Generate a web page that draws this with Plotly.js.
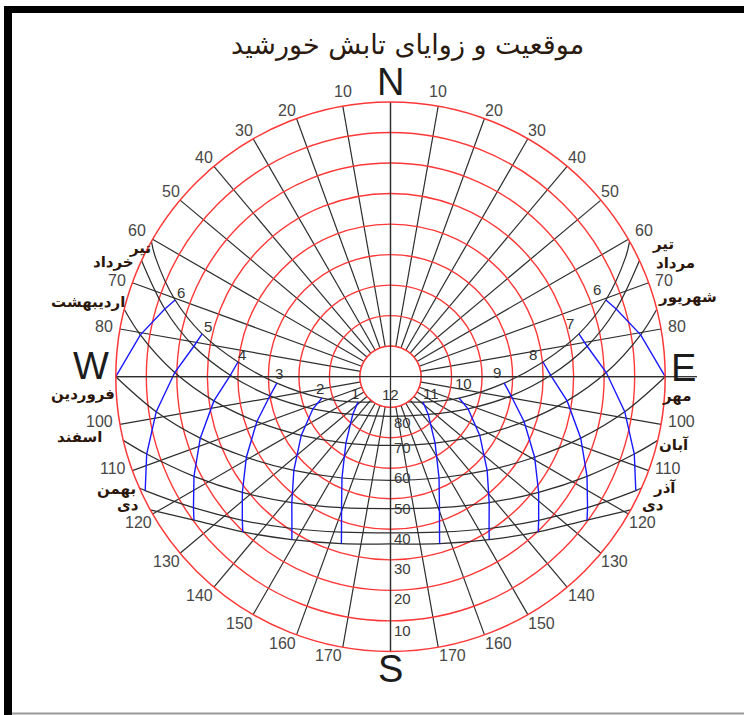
<!DOCTYPE html>
<html><head><meta charset="utf-8">
<script src="https://cdn.plot.ly/plotly-3.0.1.min.js"></script>
<style>html,body{margin:0;padding:0;background:#fff}#chart{width:744px;height:715px}</style>
</head><body><div id="chart"></div>
<script>
// ---- data (altitude / azimuth-from-north, afternoon side; morning is the mirror) ----
const HOURS_FROM_NOON = [0, 1, 2, 3, 4, 5, 6, 7];
const MONTHS_WEST = ['تیر', 'خرداد', 'اردیبهشت', 'فروردین', 'اسفند', 'بهمن', 'دی'];
const MONTHS_EAST = ['تیر', 'مرداد', 'شهریور', 'مهر', 'آبان', 'آذر', 'دی'];
const altTir   = [82.0, 76.5, 66.5, 52.7, 39.8, 26.7, 15.1, 3.5];
const azTir    = [180, 128.0, 107.3, 93.2, 84.5, 77.2, 70.4, 63.0];
const altKhord = [77.0, 72.5, 62.5, 50.0, 37.5, 24.8, 12.8, null];
const azKhord  = [180, 135.0, 112.5, 99.0, 89.5, 81.2, 73.3, null];
const altOrdi  = [67.5, 63.8, 55.0, 43.8, 31.6, 19.3, 6.9, null];
const azOrdi   = [180, 146.1, 123.3, 108.6, 97.8, 88.9, 80.5, null];
const altFarv  = [56.0, 53.2, 45.9, 35.9, 24.5, 12.4, 0.0, null];
const azFarv   = [180, 154.4, 134.1, 119.2, 107.9, 98.5, 90.0, null];
const altEsf   = [46.8, 44.2, 37.6, 28.4, 17.8, 6.2, null, null];
const azEsf    = [180, 159.5, 141.9, 128.0, 116.9, 107.6, null, null];
const altBahm  = [38.8, 36.6, 30.7, 22.4, 12.5, 1.4, null, null];
const azBahm   = [180, 162.5, 147.0, 134.1, 123.6, 114.9, null, null];
const altDey   = [35.2, 33.0, 27.6, 19.8, 10.3, null, null, null];
const azDey    = [180, 163.6, 148.8, 136.4, 126.1, null, null, null];
const SUNSET_AZ = [60.5, 65.0, 75.8, 90.0, 103.4, 113.9, 119.0];
const HOUR_LABELS_PM = ['12', '1', '2', '3', '4', '5', '6'];
const HOUR_LABELS_AM = ['11', '10', '9', '8', '7', '6'];
const ALT_LABELS = [80, 70, 60, 50, 40, 30, 20, 10];
const TITLE = 'موقعیت و زوایای تابش خورشید';

const ALTS = [altTir, altKhord, altOrdi, altFarv, altEsf, altBahm, altDey];
const AZS  = [azTir, azKhord, azOrdi, azFarv, azEsf, azBahm, azDey];

// ---- layout geometry (pixels of the 744x715 page) ----
const W = 744, H = 715;
const CX = 390.5, CY = 376.7, R = 274.7;
const px = (x) => x / W, py = (y) => 1 - y / H;
const RED = 'rgb(255,55,55)', BLK = '#2e2e2e', BLUE = 'rgb(25,25,255)';
const zen = (a) => 90 - a;

const traces = [];
// day (month) curves
ALTS.forEach((alt, m) => {
  const az = AZS[m];
  const r = [90], t = [SUNSET_AZ[m]];
  for (let h = HOURS_FROM_NOON.length - 1; h >= 1; h--) if (alt[h] !== null) { r.push(zen(alt[h])); t.push(az[h]); }
  r.push(zen(alt[0])); t.push(180);
  for (let h = 1; h < HOURS_FROM_NOON.length; h++) if (alt[h] !== null) { r.push(zen(alt[h])); t.push(360 - az[h]); }
  r.push(90); t.push(360 - SUNSET_AZ[m]);
  traces.push({type: 'scatterpolar', mode: 'lines', r, theta: t,
    line: {color: BLK, width: 1.25, shape: 'spline', smoothing: 1}, hoverinfo: 'skip'});
});
// hour lines (blue), afternoon and morning
for (let h = 1; h <= 6; h++) {
  [1, -1].forEach(side => {
    const r = [], t = [];
    ALTS.forEach((alt, m) => { if (alt[h] !== null) { r.push(zen(alt[h])); t.push(side > 0 ? 360 - AZS[m][h] : AZS[m][h]); } });
    traces.push({type: 'scatterpolar', mode: 'lines', r, theta: t,
      line: {color: BLUE, width: 1.4}, hoverinfo: 'skip'});
  });
}
// white central disk (altitude 80 circle) and the N-S / E-W axes through it
const discT = [];
for (let a = 0; a <= 360; a += 3) discT.push(a);
traces.push({type: 'scatterpolar', mode: 'lines', r: discT.map(() => 10), theta: discT,
  fill: 'toself', fillcolor: '#ffffff', line: {color: RED, width: 1.4}, hoverinfo: 'skip'});
traces.push({type: 'scatterpolar', mode: 'lines', r: [90, 0, 90], theta: [0, 0, 180],
  line: {color: BLK, width: 1.3}, hoverinfo: 'skip'});
traces.push({type: 'scatterpolar', mode: 'lines', r: [90, 0, 90], theta: [270, 0, 90],
  line: {color: BLK, width: 1.3}, hoverinfo: 'skip'});

// angular grid every 10 degrees
const tickvals = [];
for (let a = 0; a < 360; a += 10) tickvals.push(a);

const ann = [];
const A = (x, y, text, font, xa, ya) => ann.push({xref: 'paper', yref: 'paper', x: px(x), y: py(y), text,
  showarrow: false, xanchor: xa || 'center', yanchor: ya || 'middle', font});

// azimuth labels just outside the rim (same value on both sides of north)
const TF = {family: 'Liberation Sans, Arial', size: 16, color: '#474747'};
tickvals.forEach(a => {
  if (a % 90 === 0) return;
  const s = Math.sin(a * Math.PI / 180), c = Math.cos(a * Math.PI / 180);
  const xr = CX + R * s, yr = CY - R * c;
  const txt = String(a <= 180 ? a : 360 - a);
  if (Math.abs(s) < 0.2 && c > 0) { A(xr, yr - 15, txt, TF); return; }
  const steep = c > 0 ? c >= 0.55 : -c >= 0.45;
  const off = steep ? 1.5 : -4.5;
  const dy = Math.abs(c) >= 0.45 ? (c > 0 ? -8.5 : 8.5) : -2.5;
  if (s < 0) A(xr + off, yr + dy, txt, TF, 'right'); else A(xr - off, yr + dy, txt, TF, 'left');
});

A(408, 45, TITLE, {family: 'DejaVu Sans', size: 27, color: '#2a1a0f'});
const LF = {family: 'Liberation Sans, Arial', size: 38, color: '#1c1c1c'};
A(390, 82, 'N', LF); A(683, 368, 'E', LF); A(390, 669, 'S', LF); A(91, 366, 'W', LF);
// hour labels
const HL_PM_POS = [[390, 395], [355, 393], [320, 388], [279, 373], [242, 355], [208, 326], [181, 292]];
const HL_AM_POS = [[431, 393], [463, 383], [497, 372], [533, 355], [570, 323], [597, 289]];
const HF = {family: 'Liberation Sans, Arial', size: 15, color: '#333'};
HOUR_LABELS_PM.forEach((s, i) => A(HL_PM_POS[i][0], HL_PM_POS[i][1], s, HF));
HOUR_LABELS_AM.forEach((s, i) => A(HL_AM_POS[i][0], HL_AM_POS[i][1], s, HF));
// altitude labels along the south meridian
const ALT_LABEL_Y = [422, 447, 477, 508, 538, 568, 598, 630];
ALT_LABELS.forEach((v, i) => A(392, ALT_LABEL_Y[i], String(v), {family: 'Liberation Sans, Arial', size: 15, color: '#3a3a3a'}, 'left'));
// month labels
const MF = {family: 'DejaVu Sans', size: 15, color: '#2a160a', weight: 'bold'};
const MW_POS = [[140, 248], [113, 262], [88, 302], [83, 394], [79, 437], [116, 489], [128, 505]];
const ME_POS = [[663, 244], [675, 263], [687, 297], [677, 396], [674, 445], [664, 488], [653, 505]];
MONTHS_WEST.forEach((s, i) => A(MW_POS[i][0], MW_POS[i][1], s, MF));
MONTHS_EAST.forEach((s, i) => A(ME_POS[i][0], ME_POS[i][1], s, MF));

const shapes = [
  {type: 'rect', xref: 'paper', yref: 'paper', x0: px(4), x1: px(744), y0: py(6), y1: py(13), fillcolor: '#000', line: {width: 0}},
  {type: 'rect', xref: 'paper', yref: 'paper', x0: px(4), x1: px(12), y0: py(6), y1: py(715), fillcolor: '#000', line: {width: 0}},
  {type: 'line', xref: 'paper', yref: 'paper', x0: px(12), x1: px(744), y0: py(713.5), y1: py(713.5), line: {color: '#9a9a9a', width: 2}},
  {type: 'line', xref: 'paper', yref: 'paper', x0: px(CX + R), x1: px(697), y0: py(CY), y1: py(CY), line: {color: BLK, width: 1.3}}
];

const layout = {
  width: W, height: H, margin: {l: 0, r: 0, t: 0, b: 0},
  paper_bgcolor: '#fff', showlegend: false, hovermode: false,
  annotations: ann, shapes,
  polar: {
    domain: {x: [px(CX - R), px(CX + R)], y: [py(CY + R), py(CY - R)]},
    bgcolor: '#fff',
    angularaxis: {rotation: 90, direction: 'clockwise', tickmode: 'array', tickvals,
      showticklabels: false, showgrid: true, gridcolor: BLK, gridwidth: 1.2,
      showline: true, linecolor: RED, linewidth: 1.5, ticks: ''},
    radialaxis: {range: [0, 90], tickmode: 'array', tickvals: [10, 20, 30, 40, 50, 60, 70, 80],
      showticklabels: false, ticks: '', showline: false, gridcolor: RED, gridwidth: 1.4}
  }
};
Plotly.newPlot('chart', traces, layout, {displayModeBar: false, staticPlot: true});
</script></body></html>
